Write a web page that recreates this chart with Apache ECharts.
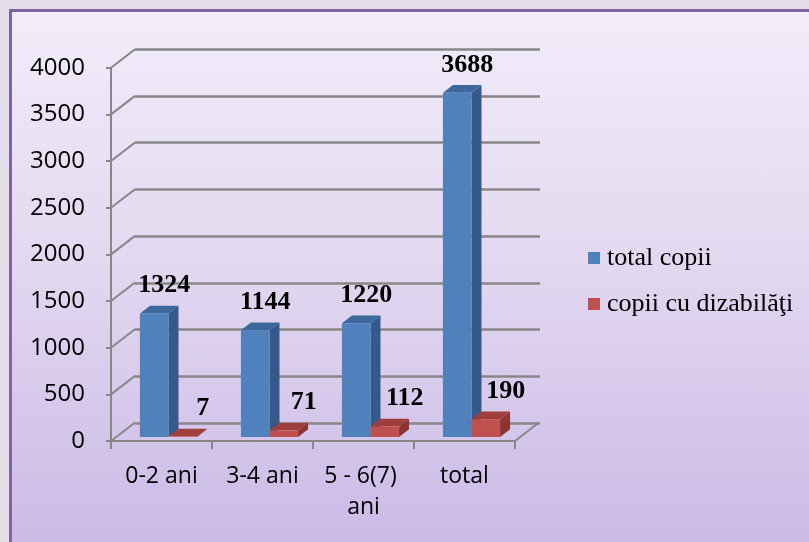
<!DOCTYPE html>
<html>
<head>
<meta charset="utf-8">
<script src="https://cdn.jsdelivr.net/npm/echarts@6/dist/echarts.min.js"></script>
<style>
  html, body { margin: 0; padding: 0; background: #e5dfea; }
  .frame {
    position: absolute; left: 9px; top: 9px; width: 820px; height: 560px;
    border-left: 3px solid #8064a2; border-top: 3px solid #8064a2;
    background: linear-gradient(to bottom, #f2ecfa 0%, #e2d8f0 45%, #c9b7e6 100%);
  }
  #chart { position: absolute; left: 0; top: 0; width: 809px; height: 542px; }
</style>
</head>
<body>
<div class="frame"></div>
<div id="chart"></div>
<script>
// date
const categories = ['0-2 ani', '3-4 ani', '5 - 6(7) ani', 'total']
const totalCopii = [1324, 1144, 1220, 3688]
const copiiDizabilitati = [7, 71, 112, 190]
const seriesNames = ['total copii', 'copii cu dizabilăţi']
const yMax = 4000
const yStep = 500

// adancimea efectului 3D (pixeli)
const DEPTH_X = 24
const DEPTH_Y = 18.5
const BAR_DX = 10
const BAR_DY = 7.7

const faceColors = [
  { front: '#4f81bd', side: '#34598a', top: '#3d689d' },
  { front: '#c0504d', side: '#8c3432', top: '#a03e3b' }
]

const chart = echarts.init(document.getElementById('chart'), null, { renderer: 'canvas' })

// bara 3D: fata, latura, capac + eticheta
function barRenderer (idx) {
  return function (params, api) {
    const cat = api.value(0)
    const val = api.value(1)
    const p0 = api.coord([cat, 0])
    const p1 = api.coord([cat, val])
    const bandW = api.size([1, 0])[0]
    const barW = bandW * 0.283
    const x0 = p0[0] - barW + 7 + idx * barW
    const x1 = x0 + barW
    const yb = p0[1] - 4
    const yt = p1[1] - 4
    const c = faceColors[idx]
    return {
      type: 'group',
      children: [
        {
          type: 'polygon',
          shape: { points: [[x1, yb], [x1 + BAR_DX, yb - BAR_DY], [x1 + BAR_DX, yt - BAR_DY], [x1, yt]] },
          style: { fill: c.side }
        },
        {
          type: 'polygon',
          shape: { points: [[x0, yt], [x1, yt], [x1 + BAR_DX, yt - BAR_DY], [x0 + BAR_DX, yt - BAR_DY]] },
          style: { fill: c.top }
        },
        {
          type: 'rect',
          shape: { x: x0, y: yt, width: barW, height: yb - yt },
          style: { fill: c.front }
        },
        {
          type: 'text',
          x: (x0 + x1) / 2 + (idx === 0 ? 10 : 20),
          y: yt - 28,
          style: {
            text: String(val),
            fill: '#000',
            font: 'bold 26px "Liberation Serif", "Times New Roman", serif',
            align: 'center',
            verticalAlign: 'middle'
          }
        }
      ]
    }
  }
}

// liniile diagonale ale peretelui lateral si ale podelei
function frameRenderer (params, api) {
  const v = api.value(1)
  const p = api.coord([0, v])
  const bandW = api.size([1, 0])[0]
  const left = p[0] - bandW / 2
  const lines = [{
    type: 'line',
    shape: { x1: left, y1: p[1], x2: left + DEPTH_X, y2: p[1] - DEPTH_Y },
    style: { stroke: '#878787', lineWidth: 2 }
  }]
  if (v === 0) {
    const right = left + bandW * categories.length
    lines.push({
      type: 'line',
      shape: { x1: right, y1: p[1], x2: right + DEPTH_X, y2: p[1] - DEPTH_Y },
      style: { stroke: '#878787', lineWidth: 2 }
    })
  }
  return { type: 'group', children: lines }
}

const tickValues = []
for (let v = 0; v <= yMax; v += yStep) tickValues.push([0, v])

const option = {
  animation: false,
  textStyle: { fontFamily: '"Open Sans", sans-serif' },
  legend: {
    orient: 'vertical',
    left: 588,
    top: 245,
    padding: 0,
    itemWidth: 12,
    itemHeight: 12,
    itemGap: 20,
    icon: 'rect',
    data: seriesNames,
    textStyle: {
      fontFamily: '"Liberation Serif", "Times New Roman", serif',
      fontSize: 26,
      color: '#000',
      padding: [0, 0, 0, 2]
    }
  },
  grid: [
    { left: 111, top: 67.7, width: 404, height: 373.3 },
    { left: 135, top: 49.2, width: 405, height: 373.8 }
  ],
  xAxis: [
    {
      type: 'category',
      gridIndex: 0,
      data: categories,
      boundaryGap: true,
      axisLine: { lineStyle: { color: '#878787', width: 2 } },
      axisTick: { show: true, length: 8, lineStyle: { color: '#878787', width: 2 } },
      axisLabel: {
        interval: 0,
        color: '#000',
        fontSize: 23,
        margin: 20,
        width: 95,
        overflow: 'break',
        lineHeight: 31
      }
    },
    {
      type: 'category',
      gridIndex: 1,
      data: categories,
      show: false
    }
  ],
  yAxis: [
    {
      type: 'value',
      gridIndex: 0,
      min: 0,
      max: yMax,
      interval: yStep,
      axisLine: { show: true, lineStyle: { color: '#878787', width: 2 } },
      axisTick: { show: true, length: 5, lineStyle: { color: '#878787', width: 2 } },
      axisLabel: { color: '#000', fontSize: 24, margin: 26, formatter: v => String(v) },
      splitLine: { show: false }
    },
    {
      type: 'value',
      gridIndex: 1,
      min: 0,
      max: yMax,
      interval: yStep,
      axisLine: { show: false },
      axisTick: { show: false },
      axisLabel: { show: false },
      splitLine: { show: true, lineStyle: { color: '#878787', width: 2.5 } }
    }
  ],
  series: [
    {
      name: 'frame',
      type: 'custom',
      xAxisIndex: 0,
      yAxisIndex: 0,
      silent: true,
      z: 1,
      renderItem: frameRenderer,
      data: tickValues
    },
    {
      name: seriesNames[0],
      type: 'custom',
      xAxisIndex: 0,
      yAxisIndex: 0,
      z: 3,
      itemStyle: { color: faceColors[0].front },
      renderItem: barRenderer(0),
      data: totalCopii.map((v, i) => [i, v])
    },
    {
      name: seriesNames[1],
      type: 'custom',
      xAxisIndex: 0,
      yAxisIndex: 0,
      z: 4,
      itemStyle: { color: faceColors[1].front },
      renderItem: barRenderer(1),
      data: copiiDizabilitati.map((v, i) => [i, v])
    }
  ]
}

chart.setOption(option)
</script>
</body>
</html>
